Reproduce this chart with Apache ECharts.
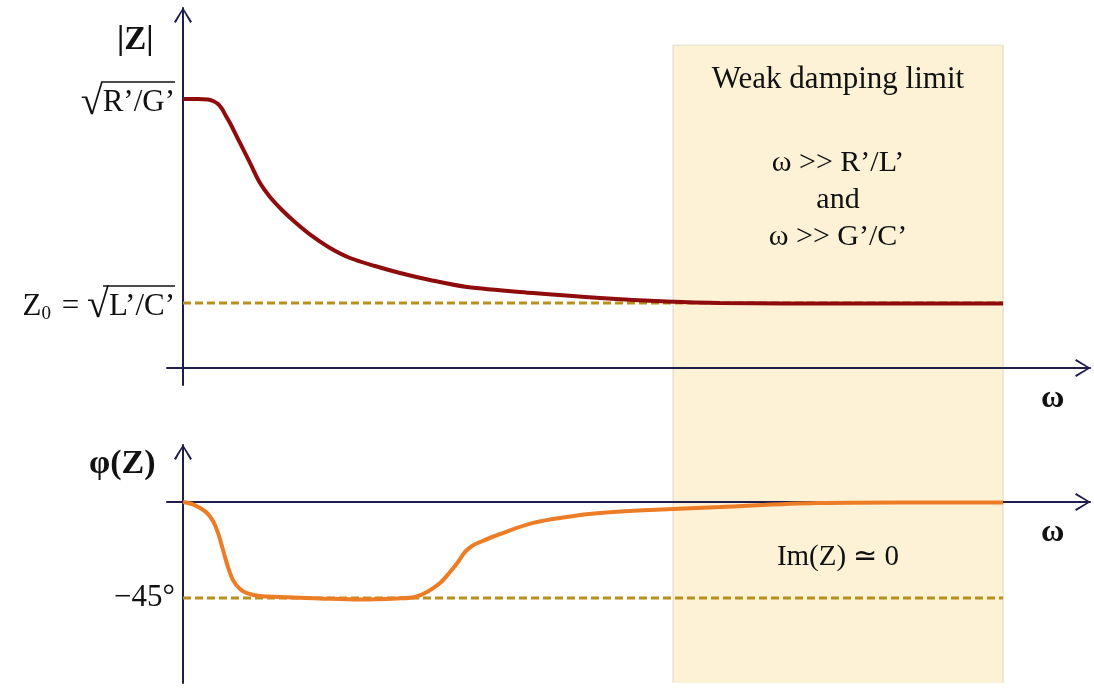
<!DOCTYPE html>
<html>
<head>
<meta charset="utf-8">
<script src="https://cdn.jsdelivr.net/npm/echarts@6/dist/echarts.min.js"></script>
<style>
html,body{margin:0;padding:0;background:#fff;}
#chart{width:1094px;height:689px;}
</style>
</head>
<body>
<div id="chart"></div>
<script>
// ---- data (omega in arbitrary units 0..100) ----
const omegaTop = [0, 1.83, 3.05, 3.66, 4.27, 4.76, 5.24, 5.73, 6.95, 8.17, 9.39, 10.61, 12.07, 13.78, 15.73, 17.93, 20.37, 23.41, 26.46, 30.12, 34.63, 42.68, 50.85, 59.02, 65.49, 81.34, 100];
const zMagnitude = [4.138, 4.138, 4.131, 4.108, 4.062, 3.985, 3.877, 3.769, 3.462, 3.154, 2.846, 2.631, 2.431, 2.231, 2.031, 1.846, 1.692, 1.569, 1.462, 1.354, 1.246, 1.154, 1.077, 1.023, 1.000, 0.992, 0.992];
const omegaPhase = [0, 1.10, 2.07, 2.93, 3.66, 4.27, 4.88, 5.49, 6.10, 6.95, 7.80, 9.39, 11.83, 16.71, 21.59, 26.10, 28.29, 29.76, 31.34, 32.56, 33.54, 34.39, 35.24, 36.22, 38.66, 42.68, 46.83, 50.85, 56.95, 65.49, 77.32, 87.44, 100];
const phaseDeg = [0, -0.94, -2.81, -5.16, -8.91, -14.5, -22.5, -30.5, -36.6, -40.8, -42.7, -44.1, -44.5, -45.2, -45.7, -45.2, -44.5, -42.2, -38.0, -32.8, -28.1, -23.4, -20.6, -18.8, -15.0, -9.8, -7.0, -5.2, -3.75, -2.34, -0.47, -0.23, -0.23];
const z0Value = 1.0;          // sqrt(L'/C')
const zDcValue = 4.138;       // sqrt(R'/G')
const phaseLimit = -45;       // degrees
const omegaEnd = 100;
const weakDampingRange = [59.76, 100];

const serif = '"Liberation Serif", "Times New Roman", serif';
const axisColor = '#1f1d4d';
const chevron = 'path://M10,-16 M10,0 L20,16 L18,17.2 L10,3.2 L2,17.2 L0,16 Z';

function axisLineStyle() {
  return {
    show: true, onZero: true,
    lineStyle: {color: axisColor, width: 2},
    symbol: ['none', chevron],
    symbolSize: [18, 32]
  };
}

const chart = echarts.init(document.getElementById('chart'));

const xCommon = {
  type: 'value', min: -1.95, max: 110.6,
  axisTick: {show: false}, axisLabel: {show: false}, splitLine: {show: false}
};

const richLab = {
  t: {fontFamily: serif, fontSize: 31, color: '#111', lineHeight: 34},
  sub: {fontFamily: serif, fontSize: 19, color: '#111', padding: [15, 3, 0, 0], lineHeight: 34},
  rad: {fontFamily: serif, fontSize: 40, color: '#111', lineHeight: 34},
  bar1: {width: 74, height: 1.6, backgroundColor: '#111', lineHeight: 8},
  bar2: {width: 72, height: 1.6, backgroundColor: '#111', lineHeight: 8}
};

const option = {
  animation: false,
  backgroundColor: '#fff',
  grid: [
    {left: 167, right: 4, top: 8, bottom: 304},
    {left: 167, right: 4, top: 445, bottom: 6},
    {left: 167, right: 4, top: 45, bottom: 6}
  ],
  xAxis: [
    Object.assign({gridIndex: 0, z: 10, axisLine: axisLineStyle()}, xCommon),
    Object.assign({gridIndex: 1, z: 10, axisLine: axisLineStyle()}, xCommon),
    Object.assign({gridIndex: 2, axisLine: {show: false}}, xCommon)
  ],
  yAxis: [
    {
      gridIndex: 0, z: 10, type: 'value', min: -0.2615, max: 5.538,
      axisLine: axisLineStyle(), axisTick: {show: false}, splitLine: {show: false},
      axisLabel: {
        show: true, margin: -8, customValues: [z0Value, zDcValue],
        formatter: function (v) {
          if (Math.abs(v - zDcValue) < 0.01) return '{bar1|}\n{rad|√}{t|R’/G’}';
          return '{bar2|}\n{t|Z}{sub|0}{t| = }{rad|√}{t|L’/C’}';
        },
        rich: richLab
      }
    },
    {
      gridIndex: 1, z: 10, type: 'value', min: -84.84, max: 26.72,
      axisLine: axisLineStyle(), axisTick: {show: false}, splitLine: {show: false},
      axisLabel: {
        show: true, margin: -8, customValues: [phaseLimit],
        formatter: function () { return '−45°'; },
        fontFamily: serif, fontSize: 31, color: '#111'
      }
    },
    {
      gridIndex: 2, type: 'value', min: 0, max: 1, show: false
    }
  ],
  series: [
    {
      // shaded "weak damping" band, drawn as a filled area in the full-height grid
      type: 'line', xAxisIndex: 2, yAxisIndex: 2, z: -5, silent: true, symbol: 'none',
      data: [[weakDampingRange[0], 0], [weakDampingRange[0], 1], [weakDampingRange[1], 1], [weakDampingRange[1], 0]],
      lineStyle: {color: '#ddd6c6', width: 1},
      areaStyle: {color: '#fdf2d6', opacity: 1}
    },
    {
      type: 'line', xAxisIndex: 0, yAxisIndex: 0, z: 11, silent: true, symbol: 'none',
      data: [[0, z0Value], [omegaEnd, z0Value]],
      lineStyle: {color: '#b8901c', width: 3, type: [8, 4]}
    },
    {
      type: 'line', xAxisIndex: 1, yAxisIndex: 1, z: 11, silent: true, symbol: 'none',
      data: [[0, phaseLimit], [omegaEnd, phaseLimit]],
      lineStyle: {color: '#b8901c', width: 3, type: [8, 4]}
    },
    {
      type: 'line', xAxisIndex: 0, yAxisIndex: 0, z: 15, silent: true, symbol: 'none',
      smooth: 0.3,
      data: omegaTop.map((x, i) => [x, zMagnitude[i]]),
      lineStyle: {color: '#8e0c0c', width: 4}
    },
    {
      type: 'line', xAxisIndex: 1, yAxisIndex: 1, z: 15, silent: true, symbol: 'none',
      smooth: 0.35,
      data: omegaPhase.map((x, i) => [x, phaseDeg[i]]),
      lineStyle: {color: '#ec7c26', width: 4}
    }
  ],
  graphic: [
    {type: 'text', z: 100, left: 117, top: 24, style: {text: '|Z|', font: 'bold 33px ' + serif, fill: '#111'}},
    {type: 'text', z: 100, left: 89, top: 447, style: {text: 'φ(Z)', font: 'bold 34px ' + serif, fill: '#111'}},
    {type: 'text', z: 100, left: 1041, top: 383, style: {text: 'ω', font: 'bold 32px ' + serif, fill: '#111'}},
    {type: 'text', z: 100, left: 1041, top: 517, style: {text: 'ω', font: 'bold 32px ' + serif, fill: '#111'}},
    {type: 'text', z: 100, x: 838, y: 80, style: {text: 'Weak damping limit', font: '31px ' + serif, fill: '#111', align: 'center', verticalAlign: 'middle'}},
    {type: 'text', z: 100, x: 838, y: 163, style: {text: 'ω >> R’/L’', font: '30px ' + serif, fill: '#111', align: 'center', verticalAlign: 'middle'}},
    {type: 'text', z: 100, x: 838, y: 200, style: {text: 'and', font: '30px ' + serif, fill: '#111', align: 'center', verticalAlign: 'middle'}},
    {type: 'text', z: 100, x: 838, y: 237, style: {text: 'ω >> G’/C’', font: '30px ' + serif, fill: '#111', align: 'center', verticalAlign: 'middle'}},
    {type: 'text', z: 100, x: 838, y: 557, style: {text: 'Im(Z) ≃ 0', font: '29px ' + serif, fill: '#111', align: 'center', verticalAlign: 'middle'}}
  ]
};
chart.setOption(option);
</script>
</body>
</html>
